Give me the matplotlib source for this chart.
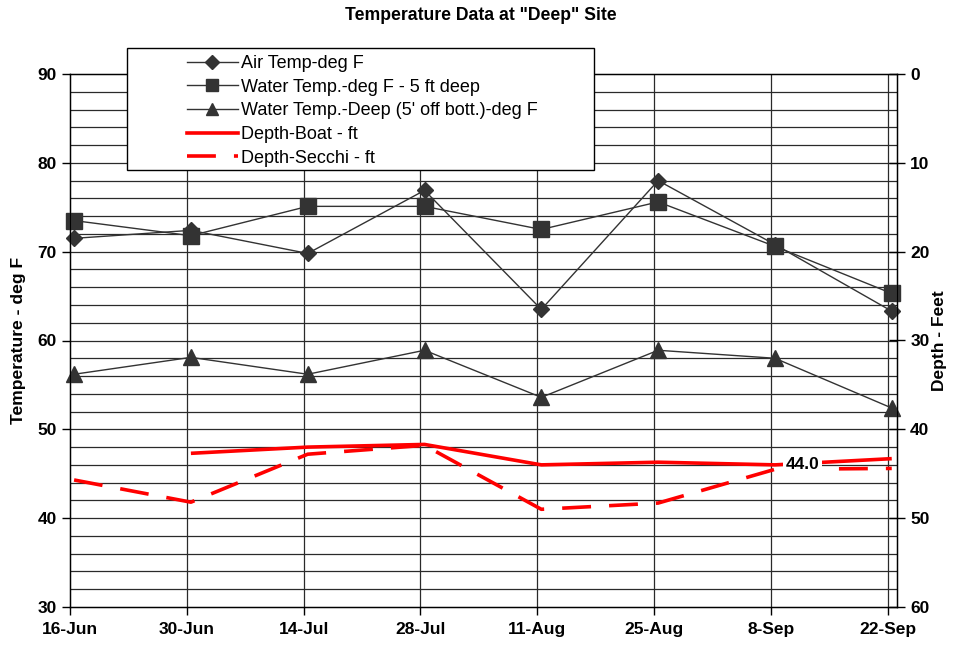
import numpy as np
import matplotlib
matplotlib.use("Agg")
import matplotlib.pyplot as plt
from matplotlib.patches import Rectangle
from matplotlib.lines import Line2D

plt.rcParams['font.family'] = ['Liberation Sans', 'DejaVu Sans']

# ===== DATA =====
dates = ['16-Jun', '30-Jun', '14-Jul', '28-Jul', '11-Aug', '25-Aug', '8-Sep', '22-Sep']
air_temp = [71.5, 72.4, 69.8, 76.9, 63.5, 78.0, 70.8, 63.3]
water_5ft = [73.5, 71.8, 75.1, 75.1, 72.5, 75.6, 70.6, 65.3]
water_deep = [56.2, 58.1, 56.2, 58.9, 53.6, 58.9, 58.0, 52.4]
depth_boat = [np.nan, 42.7, 42.0, 41.7, 44.0, 43.7, 44.0, 43.3]
depth_secchi = [45.7, 48.2, 42.8, 41.8, 49.0, 48.3, 44.5, 44.4]

x = np.arange(len(dates))
xd = x + 0.035   # data sit slightly right of the date gridlines

W, H = 962, 646
fig = plt.figure(figsize=(W / 100, H / 100), dpi=100, facecolor='white')
ax = fig.add_axes([70 / W, 1 - 607 / H, (897 - 70) / W, (607 - 74) / H])

# ===== GRID =====
ax.set_xlim(0, 7.08)
ax.set_ylim(30, 90)
ax.set_yticks(np.arange(30, 91, 10))
ax.set_xticks(x)
ax.set_xticklabels(dates)
for yv in np.arange(32, 90, 2):
    ax.axhline(yv, color='#2a2a2a', lw=0.9, zorder=0.5)
for xv in x[1:]:
    ax.axvline(xv, color='#2a2a2a', lw=0.9, zorder=0.5)

# ===== TEMPERATURE SERIES =====
mk = '#333333'
ax.plot(xd, air_temp, color=mk, lw=1, marker='D', ms=8.5, mfc=mk, mec=mk, zorder=3,
        clip_on=False)
ax.plot(xd, water_5ft, color=mk, lw=1, marker='s', ms=11.5, mfc=mk, mec=mk, zorder=3,
        clip_on=False)
ax.plot(xd, water_deep, color=mk, lw=1, marker='^', ms=11.5, mfc=mk, mec=mk, zorder=3,
        clip_on=False)

ax.set_ylabel('Temperature - deg F', fontsize=12.6, fontweight='bold', labelpad=8)
ax.tick_params(axis='y', direction='out', length=6, width=1, labelsize=12.5)
ax.tick_params(axis='x', direction='out', length=6, width=1, labelsize=12.5, pad=5)
for lab in ax.get_xticklabels() + ax.get_yticklabels():
    lab.set_fontweight('bold')
for s in ax.spines.values():
    s.set_color('black')
    s.set_linewidth(1)

# ===== DEPTH SERIES (right axis) =====
ax2 = ax.twinx()
ax2.set_ylim(60, 0)
ax2.set_yticks(np.arange(0, 61, 10))
ax2.plot(xd, depth_boat, color='#ff0000', lw=2.6, zorder=3, solid_capstyle='butt')
ax2.plot(xd, depth_secchi, color='#ff0000', lw=2.6, dashes=(8, 5), zorder=3)
ax2.annotate(f'{depth_boat[6]:.1f}', xy=(xd[6], depth_boat[6]), xytext=(8, 0),
             textcoords='offset points', ha='left', va='center', fontsize=12.5,
             fontweight='bold',
             bbox=dict(boxstyle='square,pad=0.15', facecolor='white', edgecolor='none'),
             zorder=4)
ax2.set_ylabel('Depth - Feet', fontsize=12.5, fontweight='bold', labelpad=2)
ax2.tick_params(axis='y', direction='inout', length=12, width=1, labelsize=12.5)
for lab in ax2.get_yticklabels():
    lab.set_fontweight('bold')

fig.suptitle('Temperature Data at "Deep" Site', fontsize=12.7, fontweight='bold',
             x=0.5, y=1 - 15 / H, va='center')

# ===== LEGEND =====
fig.patches.append(Rectangle((127 / W, 1 - 170 / H), (594 - 127) / W, (170 - 48) / H,
                             transform=fig.transFigure, facecolor='white',
                             edgecolor='black', lw=1, zorder=5))
handles = [
    Line2D([], [], color=mk, lw=1, marker='D', ms=7, mfc=mk, mec=mk),
    Line2D([], [], color=mk, lw=1, marker='s', ms=8, mfc=mk, mec=mk),
    Line2D([], [], color=mk, lw=1, marker='^', ms=8, mfc=mk, mec=mk),
    Line2D([], [], color='#ff0000', lw=2.6),
    Line2D([], [], color='#ff0000', lw=2.6, dashes=(8, 5)),
]
labels = ['Air Temp-deg F', 'Water Temp.-deg F - 5 ft deep',
          'Water Temp.-Deep (5\' off bott.)-deg F', 'Depth-Boat - ft', 'Depth-Secchi - ft']
leg = fig.legend(handles, labels, loc='upper left', bbox_to_anchor=(187 / W, 1 - 55 / H),
                 frameon=False, fontsize=13, borderpad=0, borderaxespad=0,
                 handlelength=2.8, handletextpad=0.2, labelspacing=0.37)
leg.set_zorder(6)

fig.savefig('out.png', dpi=100, facecolor='white')
